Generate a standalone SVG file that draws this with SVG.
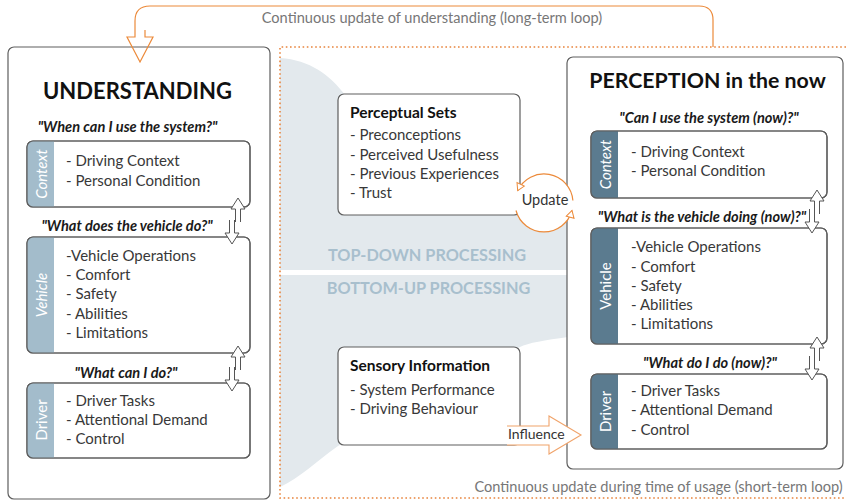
<svg xmlns="http://www.w3.org/2000/svg" width="846" height="501" viewBox="0 0 846 501">
<defs>
<style>
text{font-family:Lato,"Liberation Sans",sans-serif}
.box{fill:#fff;stroke:#5e5e5e;stroke-width:1.2}
.frame{fill:none;stroke:#5e5e5e;stroke-width:1.2}
.item{font-size:15px;fill:#383838}
.quote{font-size:14.6px;font-style:italic;font-weight:bold;fill:#1a1a1a;text-anchor:middle}
.title{font-weight:bold;fill:#111}
.tabL{fill:#a3bccb}
.tabR{fill:#5b7b8f}
.tabtext{fill:#fff;font-size:15px;text-anchor:middle;dominant-baseline:central}
.proc{font-size:16.3px;font-weight:bold;fill:#a8bfcd;text-anchor:middle}
.note{font-size:14.6px;fill:#777;text-anchor:middle}
.harrow{fill:#fff;stroke:#555;stroke-width:1}
.orange{fill:none;stroke:#ec8a3a;stroke-width:1.2}
.band{fill:#e3e9ed}
</style>
<path id="upA" class="harrow" d="M-2.5,24 V11 H-7 L0,0 L7,11 H2.5 V24"/>
<path id="dnA" class="harrow" d="M-2.5,-24 V-11 H-7 L0,0 L7,-11 H2.5 V-24"/>
<marker id="oh" markerUnits="userSpaceOnUse" markerWidth="10" markerHeight="10" refX="7" refY="4" orient="auto" overflow="visible">
<path d="M0,0 L7,4 L0,8 Z" fill="#fff" stroke="#ec8a3a" stroke-width="1"/>
</marker>
</defs>

<g id="background">
<path class="band" d="M280,58 C310,60 330,75 345,95 L520,205 L568,222 V270 H280 Z"/>
<path class="band" d="M280,275 H568 V337 C545,340 528,343 520,347 L338,446 C315,462 300,478 280,487 Z"/>
<path d="M846,47 H280 V498 H846" fill="none" stroke="#e8843c" stroke-width="1.6" stroke-dasharray="1.6,2.6"/>
<text class="proc" x="427" y="261">TOP-DOWN PROCESSING</text>
<text class="proc" x="428.5" y="294">BOTTOM-UP PROCESSING</text>
<text class="note" x="432" y="23">Continuous update of understanding (long-term loop)</text>
<text class="note" x="658.5" y="492">Continuous update during time of usage (short-term loop)</text>
</g>

<g id="understanding">
<rect class="box" x="8" y="47" width="262" height="452" rx="6"/>
<text class="title" x="137.5" y="99" font-size="22" text-anchor="middle">UNDERSTANDING</text>
<text class="quote" x="127.5" y="132">"When can I use the system?"</text>
<text class="quote" x="127" y="231">"What does the vehicle do?"</text>
<text class="quote" x="126" y="378">"What can I do?"</text>
</g>

<g id="u-context">
<rect class="box" x="27" y="141" width="223" height="66" rx="6"/>
<path class="tabL" d="M33,141 H54 V207 H33 A6,6 0 0 1 27,201 V147 A6,6 0 0 1 33,141 Z"/>
<rect class="frame" x="27" y="141" width="223" height="66" rx="6"/>
<text class="tabtext" font-style="italic" transform="translate(40.5,174) rotate(-90)">Context</text>
<text class="item" x="66" y="166">- Driving Context</text>
<text class="item" x="66" y="186">- Personal Condition</text>
</g>

<g id="u-vehicle">
<rect class="box" x="27" y="237" width="223" height="116" rx="6"/>
<path class="tabL" d="M33,237 H54 V353 H33 A6,6 0 0 1 27,347 V243 A6,6 0 0 1 33,237 Z"/>
<rect class="frame" x="27" y="237" width="223" height="116" rx="6"/>
<text class="tabtext" font-style="italic" transform="translate(40.5,295) rotate(-90)">Vehicle</text>
<text class="item" x="66" y="261">-Vehicle Operations</text>
<text class="item" x="66" y="280">- Comfort</text>
<text class="item" x="66" y="299">- Safety</text>
<text class="item" x="66" y="319">- Abilities</text>
<text class="item" x="66" y="338">- Limitations</text>
</g>

<g id="u-driver">
<rect class="box" x="27" y="383" width="223" height="75" rx="6"/>
<path class="tabL" d="M33,383 H54 V458 H33 A6,6 0 0 1 27,452 V389 A6,6 0 0 1 33,383 Z"/>
<rect class="frame" x="27" y="383" width="223" height="75" rx="6"/>
<text class="tabtext" transform="translate(40.5,420) rotate(-90)">Driver</text>
<text class="item" x="66" y="406">- Driver Tasks</text>
<text class="item" x="66" y="425">- Attentional Demand</text>
<text class="item" x="66" y="444">- Control</text>
</g>

<g id="perceptual-sets">
<rect class="box" x="338" y="94" width="182" height="121" rx="6"/>
<text class="title" x="350" y="118" font-size="15.5">Perceptual Sets</text>
<text class="item" x="350" y="140">- Preconceptions</text>
<text class="item" x="350" y="160">- Perceived Usefulness</text>
<text class="item" x="350" y="179">- Previous Experiences</text>
<text class="item" x="350" y="198">- Trust</text>
</g>

<g id="sensory-information">
<rect class="box" x="338" y="347" width="182" height="98" rx="6"/>
<text class="title" x="350" y="371" font-size="15.5">Sensory Information</text>
<text class="item" x="350" y="395">- System Performance</text>
<text class="item" x="350" y="414">- Driving Behaviour</text>
</g>

<g id="perception">
<rect class="box" x="567" y="57" width="276" height="412" rx="6"/>
<text class="title" x="707.5" y="88" font-size="21.3" text-anchor="middle">PERCEPTION in the now</text>
<text class="quote" x="709" y="123">"Can I use the system (now)?"</text>
<text class="quote" x="702" y="222">"What is the vehicle doing (now)?"</text>
<text class="quote" x="710" y="368">"What do I do (now)?"</text>
</g>

<g id="p-context">
<rect class="box" x="591" y="131" width="236" height="67" rx="6"/>
<path class="tabR" d="M597,131 H618 V198 H597 A6,6 0 0 1 591,192 V137 A6,6 0 0 1 597,131 Z"/>
<rect class="frame" x="591" y="131" width="236" height="67" rx="6"/>
<text class="tabtext" font-style="italic" transform="translate(604.5,164.5) rotate(-90)">Context</text>
<text class="item" x="631" y="157">- Driving Context</text>
<text class="item" x="631" y="176">- Personal Condition</text>
</g>

<g id="p-vehicle">
<rect class="box" x="591" y="228" width="236" height="116" rx="6"/>
<path class="tabR" d="M597,228 H618 V344 H597 A6,6 0 0 1 591,338 V234 A6,6 0 0 1 597,228 Z"/>
<rect class="frame" x="591" y="228" width="236" height="116" rx="6"/>
<text class="tabtext" transform="translate(604.5,286) rotate(-90)">Vehicle</text>
<text class="item" x="631" y="252">-Vehicle Operations</text>
<text class="item" x="631" y="272">- Comfort</text>
<text class="item" x="631" y="291">- Safety</text>
<text class="item" x="631" y="310">- Abilities</text>
<text class="item" x="631" y="329">- Limitations</text>
</g>

<g id="p-driver">
<rect class="box" x="591" y="374" width="236" height="75" rx="6"/>
<path class="tabR" d="M597,374 H618 V449 H597 A6,6 0 0 1 591,443 V380 A6,6 0 0 1 597,374 Z"/>
<rect class="frame" x="591" y="374" width="236" height="75" rx="6"/>
<text class="tabtext" transform="translate(604.5,411.5) rotate(-90)">Driver</text>
<text class="item" x="631" y="396">- Driver Tasks</text>
<text class="item" x="631" y="415">- Attentional Demand</text>
<text class="item" x="631" y="435">- Control</text>
</g>

<g id="connectors">
<path class="orange" d="M713,47 V20 Q713,6 699,6 H150 Q135,6 135,21 V37 H127 L140,62 L153,37 H145 V30"/>
<use href="#upA" x="238" y="198"/>
<use href="#dnA" x="232" y="244"/>
<use href="#upA" x="238" y="346"/>
<use href="#dnA" x="232" y="391"/>
<use href="#upA" x="817" y="190"/>
<use href="#dnA" x="812" y="233"/>
<use href="#upA" x="817" y="337"/>
<use href="#dnA" x="812" y="380"/>
<circle cx="544" cy="203" r="29" fill="#fff"/>
<path class="orange" d="M572.9,200.5 A29,29 0 0 0 517.7,190.7" marker-end="url(#oh)"/>
<path class="orange" d="M516,210.5 A29,29 0 0 0 572,210.5" marker-end="url(#oh)"/>
<text x="545" y="205" font-size="14.5" fill="#333" text-anchor="middle">Update</text>
<path d="M507,426 H549 V416 L581,435 L549,454 V445 H507" fill="#fff" stroke="#f0a36a" stroke-width="1.1"/>
<text x="508" y="439" font-size="14" fill="#333">Influence</text>
</g>
</svg>
